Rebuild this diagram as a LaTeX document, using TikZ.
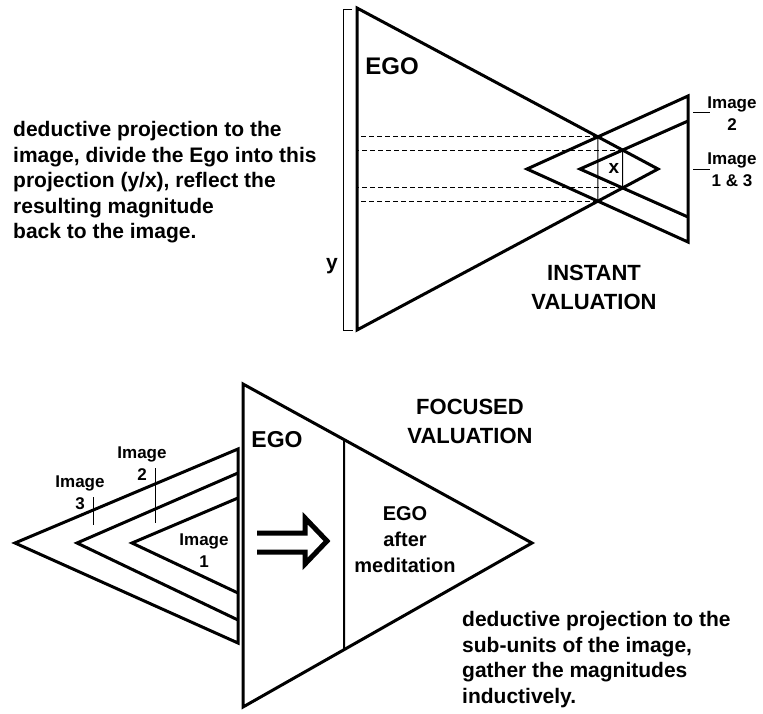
\documentclass[tikz,border=0pt]{standalone}
\usepackage{fontspec}
\setmainfont{Liberation Sans}
\usetikzlibrary{positioning}

\begin{document}
\begin{tikzpicture}[x=1pt,y=-1pt,
  tri/.style={line width=3pt},
  thinline/.style={line width=1pt},
  guide/.style={line width=0.9pt, dash pattern=on 5pt off 3pt},
  txt/.style={font=\bfseries\fontsize{21}{25.5}\selectfont, align=left, inner sep=0pt},
  title/.style={font=\bfseries\fontsize{22}{29}\selectfont, align=center, inner sep=0pt},
  small/.style={font=\bfseries\fontsize{17}{22}\selectfont, align=center, inner sep=0pt}]
  \useasboundingbox (0,0) rectangle (763,713);

  % --- Instant valuation (upper) ---
  % Ego triangle
  \coordinate (egoT) at (357,8);
  \coordinate (egoB) at (357,330);
  \coordinate (egoP) at (658,169);
  % Image 2
  \coordinate (imgA) at (527,169);
  \coordinate (imgAt) at (688,96);
  \coordinate (imgAb) at (688,242);
  % Image 1 & 3
  \coordinate (imgB) at (580,169);
  \coordinate (imgBt) at (688,121);
  \coordinate (imgBb) at (688,217);

  \draw[tri] (egoT) -- (egoP) -- (egoB) -- cycle;
  \draw[tri] (imgAt) -- (imgA) -- (imgAb) -- cycle;
  \draw[tri] (imgBt) -- (imgB) -- (imgBb);

  % Crossing points
  \coordinate (c1) at (intersection of egoT--egoP and imgA--imgAt);
  \coordinate (c2) at (intersection of egoT--egoP and imgB--imgBt);
  \coordinate (c3) at (intersection of egoB--egoP and imgB--imgBb);
  \coordinate (c4) at (intersection of egoB--egoP and imgA--imgAb);
  \draw[thinline] (c1) -- (c4);
  \draw[thinline] (c2) -- (c3);
  \foreach \c in {c1,c2,c3,c4}
    \draw[guide] (\c) -- (\c -| egoT);

  % Bracket y
  \draw[thinline] (352,9) -- (343,9) -- (343,330) -- (353,330);
  \node[font=\bfseries\fontsize{21}{25}\selectfont, inner sep=0pt] (ylbl) at (332,266) {y};
  \node[font=\bfseries\fontsize{19}{22}\selectfont, inner sep=0pt] (xlbl) at (614,168) {x};

  \node[font=\bfseries\fontsize{24}{28}\selectfont, inner sep=0pt] (ego1) at (392,66) {EGO};
  \node[title] (instant) at (594,287) {INSTANT\\VALUATION};

  % Image labels
  \node[small] (lblA) at (732,114) {Image\\2};
  \node[small] (lblB) at (732,170) {Image\\1 \& 3};
  \draw[thinline] (693,112) -- (710,112);
  \draw[thinline] (693,169) -- (710,169);

  \node[txt, anchor=north west] (note1) at (13,121.5)
    {deductive projection to the\\image, divide the Ego into this\\projection (y/x), reflect the\\resulting magnitude\\back to the image.};

  % --- Focused valuation (lower) ---
  \coordinate (egoT2) at (243,384);
  \coordinate (egoB2) at (243,707);
  \coordinate (egoP2) at (532,543);
  \draw[tri] (egoT2) -- (egoP2) -- (egoB2) -- cycle;
  \coordinate (ma) at (344,380);
  \coordinate (mb) at (344,710);
  \draw[line width=2pt] (intersection of egoT2--egoP2 and ma--mb)
    -- (intersection of egoB2--egoP2 and ma--mb);

  % Images 3, 2, 1
  \draw[tri] (238,449) -- (15,543) -- (238,643) -- cycle;
  \draw[tri] (238,473) -- (77,543) -- (238,620);
  \draw[tri] (238,498) -- (132,543) -- (238,593);
  \draw[thinline] (93,497) -- (93,525);
  \draw[thinline] (155,468) -- (155,523);
  \node[small] (img3) at (80,493) {Image\\3};
  \node[small] (img2) at (142,464) {Image\\2};
  \node[small] (img1) at (204,551) {Image\\1};

  % Arrow
  \draw[line width=5pt] (257,533) -- (305,533) -- (305,518) -- (327,541)
    -- (305,564) -- (305,552) -- (257,552);

  \node[font=\bfseries\fontsize{23}{28}\selectfont, inner sep=0pt] (ego2) at (277,440) {EGO};
  \node[font=\bfseries\fontsize{20}{26}\selectfont, align=center, inner sep=0pt] (after) at (405,540)
    {EGO\\after\\meditation};
  \node[title] (focused) at (470,421) {FOCUSED\\VALUATION};

  \node[txt, anchor=north west] (note2) at (462,611.5)
    {deductive projection to the\\sub-units of the image,\\gather the magnitudes\\inductively.};
\end{tikzpicture}
\end{document}
